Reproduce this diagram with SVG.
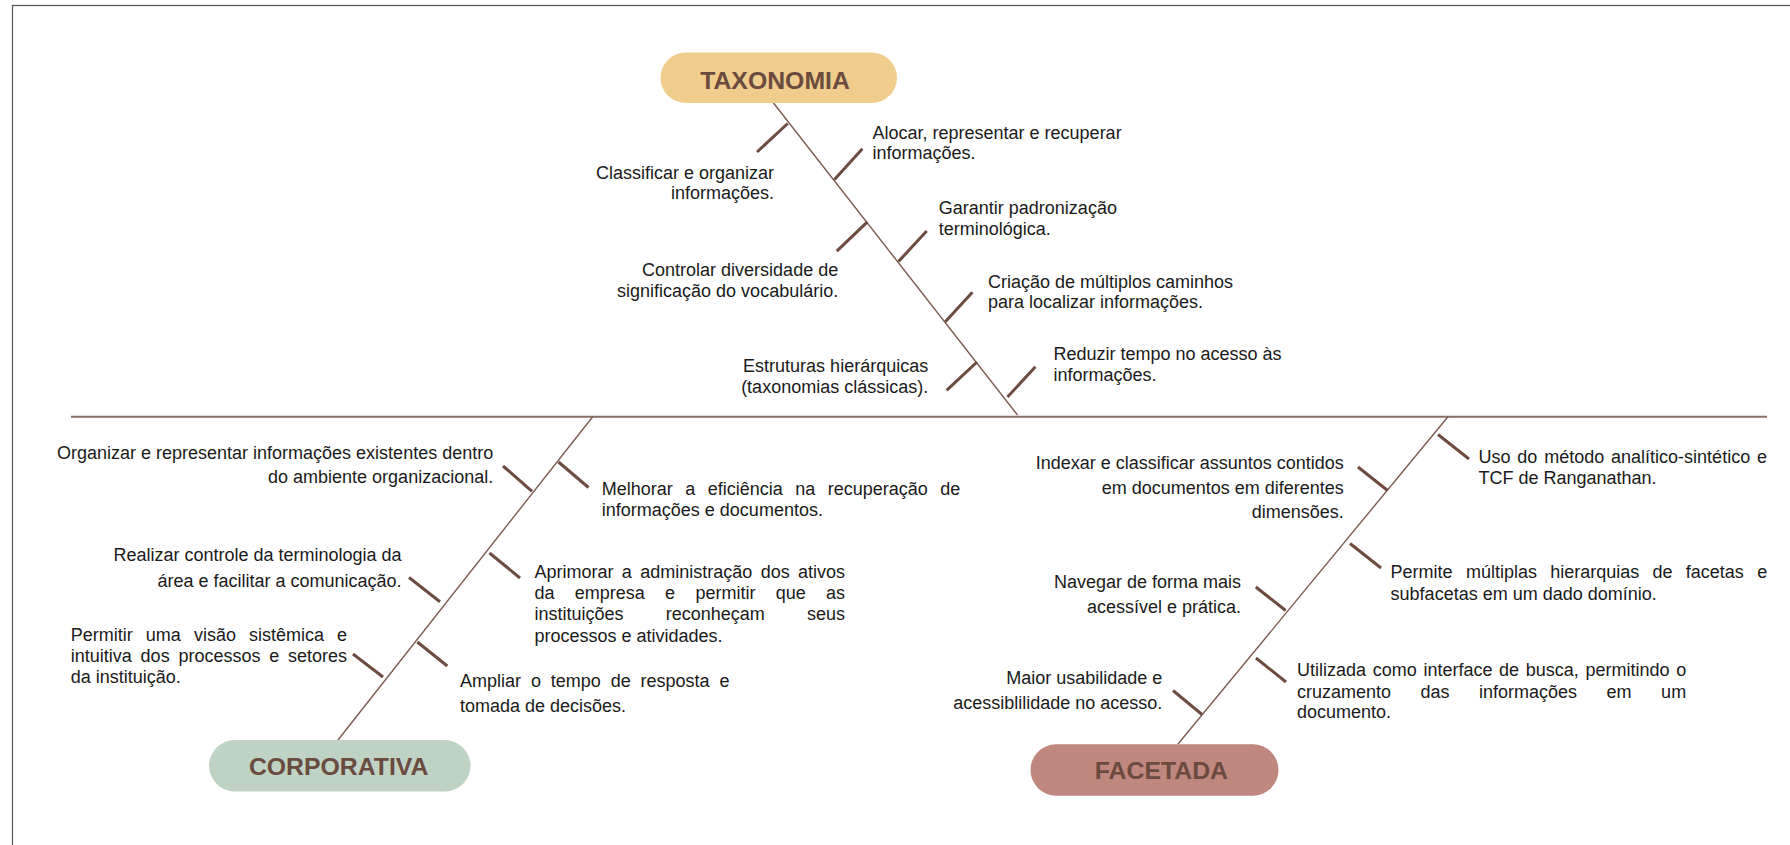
<svg xmlns="http://www.w3.org/2000/svg" width="1790" height="845" viewBox="0 0 1790 845">
  <style>
    .lbl{font-family:"Liberation Sans",Arial,Helvetica,sans-serif;font-size:18px;fill:#1a1a1a}
    .end{text-anchor:end}
    .head{font-family:"Liberation Sans",Arial,Helvetica,sans-serif;font-size:24.8px;font-weight:bold;fill:#6b4a40;text-anchor:middle}
    .axis{stroke:#8a6d64;stroke-width:2;fill:none}
    .spine{stroke:#7b5a50;stroke-width:1.4;fill:none}
    .tick{stroke:#6e4b40;stroke-width:3;fill:none}
  </style>

  <rect width="1790" height="845" fill="#ffffff"/>
  <!-- page frame -->
  <rect x="12.5" y="5.5" width="1800" height="860" fill="none" stroke="#555555" stroke-width="1.2"/>

  <!-- fishbone: axis, category spines and cause ticks -->
  <g id="connectors">
    <line class="axis" x1="71" y1="416.7" x2="1767" y2="416.7"/>
    <line class="spine" x1="773.5" y1="103" x2="1017.5" y2="415"/>
    <line class="spine" x1="592.7" y1="416.7" x2="338" y2="740"/>
    <line class="spine" x1="1448" y1="416.7" x2="1178" y2="744"/>

    <!-- taxonomia ticks -->
    <line class="tick" x1="787.7" y1="123.5" x2="757" y2="152"/>
    <line class="tick" x1="867.4" y1="221.8" x2="836.8" y2="251.2"/>
    <line class="tick" x1="977" y1="362" x2="946.6" y2="390.4"/>
    <line class="tick" x1="834.5" y1="179.5" x2="862.4" y2="148.8"/>
    <line class="tick" x1="898.5" y1="261.5" x2="926.7" y2="231"/>
    <line class="tick" x1="945.3" y1="321.8" x2="972.4" y2="292.3"/>
    <line class="tick" x1="1007.5" y1="397" x2="1035.4" y2="366.8"/>

    <!-- corporativa ticks -->
    <line class="tick" x1="503" y1="466" x2="532" y2="491.3"/>
    <line class="tick" x1="409" y1="577.5" x2="440" y2="601.7"/>
    <line class="tick" x1="353" y1="654" x2="383" y2="677"/>
    <line class="tick" x1="558.5" y1="462" x2="588.5" y2="487.5"/>
    <line class="tick" x1="489.5" y1="553" x2="520" y2="578"/>
    <line class="tick" x1="417.3" y1="642" x2="447.3" y2="666"/>

    <!-- facetada ticks -->
    <line class="tick" x1="1358" y1="467" x2="1387.6" y2="490.5"/>
    <line class="tick" x1="1255.8" y1="587" x2="1285.6" y2="610.5"/>
    <line class="tick" x1="1173" y1="690.5" x2="1202" y2="714.5"/>
    <line class="tick" x1="1438" y1="434.5" x2="1469" y2="459"/>
    <line class="tick" x1="1350" y1="543.5" x2="1381" y2="568"/>
    <line class="tick" x1="1256" y1="658" x2="1286" y2="682"/>
  </g>

  <!-- category heads -->
  <g id="taxonomia">
    <rect x="660.5" y="52.5" width="236.5" height="50.5" rx="25.25" fill="#f0cd8c"/>
    <text class="head" x="775" y="89.2">TAXONOMIA</text>
  </g>
  <g id="corporativa">
    <rect x="209" y="740" width="261.5" height="51.5" rx="25.75" fill="#bfd3c5"/>
    <text class="head" x="338.7" y="775.2">CORPORATIVA</text>
  </g>
  <g id="facetada">
    <rect x="1030.5" y="744.3" width="248" height="51.4" rx="25.7" fill="#c0877f"/>
    <text class="head" x="1161.4" y="779.2">FACETADA</text>
  </g>

  <!-- taxonomia causes -->
  <g id="tax-classificar">
    <text class="lbl end" x="774" y="178.5">Classificar e organizar</text>
    <text class="lbl end" x="774" y="199.3">informações.</text>
  </g>
  <g id="tax-alocar">
    <text class="lbl" x="872.5" y="138.5">Alocar, representar e recuperar</text>
    <text class="lbl" x="872.5" y="159">informações.</text>
  </g>
  <g id="tax-garantir">
    <text class="lbl" x="938.8" y="214.3">Garantir padronização</text>
    <text class="lbl" x="938.8" y="235.3">terminológica.</text>
  </g>
  <g id="tax-controlar">
    <text class="lbl end" x="838.2" y="275.8">Controlar diversidade de</text>
    <text class="lbl end" x="838.2" y="297">significação do vocabulário.</text>
  </g>
  <g id="tax-criacao">
    <text class="lbl" x="988" y="287.5">Criação de múltiplos caminhos</text>
    <text class="lbl" x="988" y="308">para localizar informações.</text>
  </g>
  <g id="tax-estruturas">
    <text class="lbl end" x="928.2" y="371.7">Estruturas hierárquicas</text>
    <text class="lbl end" x="928.2" y="393">(taxonomias clássicas).</text>
  </g>
  <g id="tax-reduzir">
    <text class="lbl" x="1053.4" y="360.3">Reduzir tempo no acesso às</text>
    <text class="lbl" x="1053.4" y="381">informações.</text>
  </g>

  <!-- corporativa causes -->
  <g id="corp-organizar">
    <text class="lbl end" x="493.2" y="458.7">Organizar e representar informações existentes dentro</text>
    <text class="lbl end" x="493.2" y="483">do ambiente organizacional.</text>
  </g>
  <g id="corp-melhorar">
    <text class="lbl" x="601.8" y="495" word-spacing="7.46">Melhorar a eficiência na recuperação de</text>
    <text class="lbl" x="601.8" y="516">informações e documentos.</text>
  </g>
  <g id="corp-realizar">
    <text class="lbl end" x="401.6" y="561">Realizar controle da terminologia da</text>
    <text class="lbl end" x="401.6" y="586.5">área e facilitar a comunicação.</text>
  </g>
  <g id="corp-aprimorar">
    <text class="lbl" x="534.5" y="577.5" word-spacing="3.35">Aprimorar a administração dos ativos</text>
    <text class="lbl" x="534.5" y="599" word-spacing="15.28">da empresa e permitir que as</text>
    <text class="lbl" x="534.5" y="620" word-spacing="37.2">instituições reconheçam seus</text>
    <text class="lbl" x="534.5" y="641.5">processos e atividades.</text>
  </g>
  <g id="corp-permitir">
    <text class="lbl" x="70.8" y="640.5" word-spacing="8.05">Permitir uma visão sistêmica e</text>
    <text class="lbl" x="70.8" y="662" word-spacing="3.78">intuitiva dos processos e setores</text>
    <text class="lbl" x="70.8" y="683.3">da instituição.</text>
  </g>
  <g id="corp-ampliar">
    <text class="lbl" x="460" y="687" word-spacing="4.88">Ampliar o tempo de resposta e</text>
    <text class="lbl" x="460" y="712.3">tomada de decisões.</text>
  </g>

  <!-- facetada causes -->
  <g id="fac-indexar">
    <text class="lbl end" x="1343.8" y="468.8">Indexar e classificar assuntos contidos</text>
    <text class="lbl end" x="1343.8" y="493.5">em documentos em diferentes</text>
    <text class="lbl end" x="1343.8" y="518">dimensões.</text>
  </g>
  <g id="fac-uso">
    <text class="lbl" x="1478.4" y="462.5" word-spacing="1.87">Uso do método analítico-sintético e</text>
    <text class="lbl" x="1478.4" y="484">TCF de Ranganathan.</text>
  </g>
  <g id="fac-navegar">
    <text class="lbl end" x="1241" y="588">Navegar de forma mais</text>
    <text class="lbl end" x="1241" y="612.5">acessível e prática.</text>
  </g>
  <g id="fac-permite">
    <text class="lbl" x="1390.6" y="578" word-spacing="8.28">Permite múltiplas hierarquias de facetas e</text>
    <text class="lbl" x="1390.6" y="599.5">subfacetas em um dado domínio.</text>
  </g>
  <g id="fac-maior">
    <text class="lbl end" x="1162.3" y="684">Maior usabilidade e</text>
    <text class="lbl end" x="1162.3" y="708.8">acessiblilidade no acesso.</text>
  </g>
  <g id="fac-utilizada">
    <text class="lbl" x="1297" y="675.8" word-spacing="1.67">Utilizada como interface de busca, permitindo o</text>
    <text class="lbl" x="1297" y="697.5" word-spacing="24.5">cruzamento das informações em um</text>
    <text class="lbl" x="1297" y="717.5">documento.</text>
  </g>
</svg>
